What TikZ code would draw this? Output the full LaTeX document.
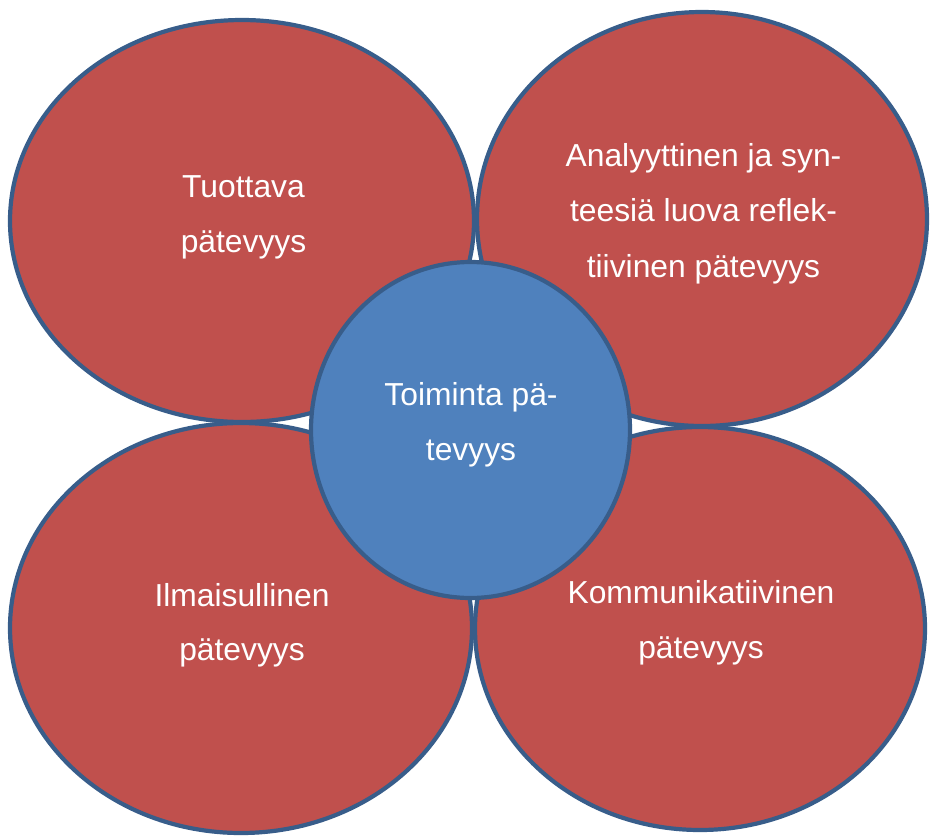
\documentclass[tikz,border=0pt]{standalone}
\usepackage{fontspec}
\setmainfont{Liberation Sans}
\usetikzlibrary{shapes.geometric}
\definecolor{petal}{HTML}{C0504D}
\definecolor{core}{HTML}{4F81BD}
\definecolor{rim}{HTML}{385D8A}
\tikzset{
  petalshape/.style={ellipse, draw=rim, fill=petal, line width=4.2pt, inner sep=0pt},
  coreshape/.style={ellipse, draw=rim, fill=core, line width=4.2pt, inner sep=0pt},
  txt/.style={anchor=base, text=white, inner sep=0pt, font=\fontsize{31.8}{38}\selectfont}
}
\begin{document}
\begin{tikzpicture}[x=1pt,y=-1pt]
\useasboundingbox (0,0) rectangle (930,836);
\node[petalshape, minimum width=464pt, minimum height=402pt] (tl) at (242,221) {};
\node[petalshape, minimum width=450pt, minimum height=414pt] (tr) at (702,219) {};
\node[petalshape, minimum width=462pt, minimum height=410pt] (bl) at (241,628) {};
\node[petalshape, minimum width=450pt, minimum height=403pt] (br) at (700,628.5) {};
\node[coreshape, minimum width=319pt, minimum height=336pt] (c) at (470.5,430) {};
% texts
\node[txt] (tl1) at (243.5,197) {Tuottava};
\node[txt] (tl2) at (243.5,252) {pätevyys};
\node[txt] (tr1) at (703.5,166) {Analyyttinen ja syn-};
\node[txt] (tr2) at (703.5,221) {teesiä luova reflek-};
\node[txt] (tr3) at (703.5,277) {tiivinen pätevyys};
\node[txt] (c1) at (471,405) {Toiminta pä-};
\node[txt] (c2) at (471,460) {tevyys};
\node[txt] (bl1) at (242,606) {Ilmaisullinen};
\node[txt] (bl2) at (242,660) {pätevyys};
\node[txt] (br1) at (701,603) {Kommunikatiivinen};
\node[txt] (br2) at (701,658) {pätevyys};
\end{tikzpicture}
\end{document}
